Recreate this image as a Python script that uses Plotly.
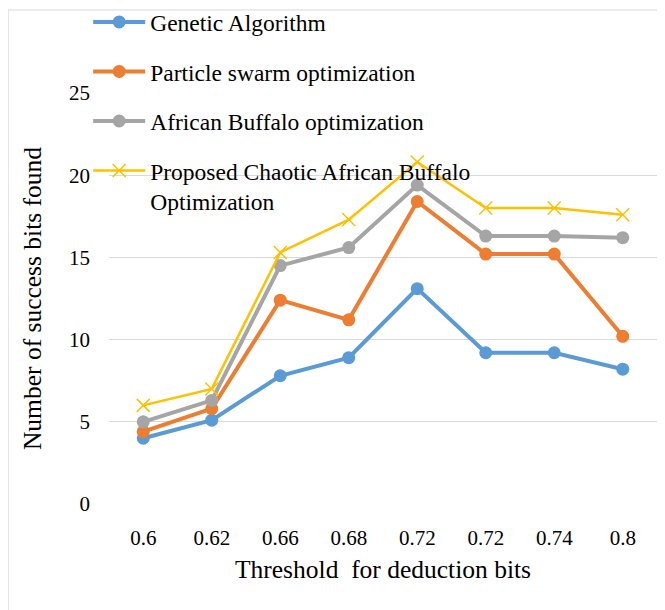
import plotly.graph_objects as go

thresholds = ["0.6", "0.62", "0.66", "0.68", "0.72", "0.72", "0.74", "0.8"]
genetic = [4.0, 5.1, 7.8, 8.9, 13.1, 9.2, 9.2, 8.2]
pso = [4.4, 5.8, 12.4, 11.2, 18.4, 15.2, 15.2, 10.2]
abo = [5.0, 6.3, 14.5, 15.6, 19.4, 16.3, 16.3, 16.2]
cabo = [6.0, 7.0, 15.3, 17.3, 20.8, 18.0, 18.0, 17.6]

names = ["Genetic Algorithm", "Particle swarm optimization",
         "African Buffalo optimization",
         "Proposed Chaotic African Buffalo<br>Optimization"]
colors = ["#5B9BD5", "#ED7D31", "#A5A5A5", "#FFC000"]

xpos = list(range(len(thresholds)))
fig = go.Figure()
for i, (vals, nm, c) in enumerate(zip([genetic, pso, abo, cabo], names, colors)):
    if i < 3:
        marker = dict(symbol="circle", size=13, color=c)
        lw = 4
    else:
        marker = dict(symbol="x-thin", size=13, color=c, line=dict(color=c, width=1.5))
        lw = 2.5
    fig.add_trace(go.Scatter(x=xpos, y=vals, name=nm, mode="lines+markers",
                             line=dict(color=c, width=lw), marker=marker,
                             legendgroup=f"g{i}"))

font = "Liberation Serif"
fig.update_layout(
    width=657, height=602,
    margin=dict(l=101, r=8, t=85, b=106, autoexpand=False),
    paper_bgcolor="white", plot_bgcolor="white",
    font=dict(family=font, size=21, color="#000000"),
    showlegend=True,
    legend=dict(x=-0.038, y=1.226, xanchor="left", yanchor="top",
                bgcolor="rgba(0,0,0,0)", font=dict(family=font, size=23.5, color="#000"),
                tracegroupgap=16, valign="top", itemwidth=52),
    xaxis=dict(range=[-0.5, 7.5], tickmode="array", tickvals=xpos, ticktext=thresholds,
               showgrid=False, zeroline=False, showline=False, ticks="",
               tickfont=dict(family=font, size=21, color="#000"), ticklabelstandoff=19,
               title=dict(text="Threshold  for deduction bits",
                          font=dict(family=font, size=25.5, color="#000"), standoff=11)),
    yaxis=dict(range=[0, 25], tickvals=[0, 5, 10, 15, 20, 25], showgrid=True,
               gridcolor="#D9D9D9", gridwidth=1, zeroline=False, showline=False,
               ticks="", tickfont=dict(family=font, size=21, color="#000"), ticklabelstandoff=18,
               title=dict(text="Number of success bits found",
                          font=dict(family=font, size=25.5, color="#000"), standoff=20)),
    shapes=[dict(type="rect", xref="paper", yref="paper",
                 x0=-0.184, x1=1.1, y0=-0.3, y1=1.202,
                 line=dict(color="#D9D9D9", width=1), fillcolor="rgba(0,0,0,0)", layer="below")],
)
fig.write_html("out.html")
